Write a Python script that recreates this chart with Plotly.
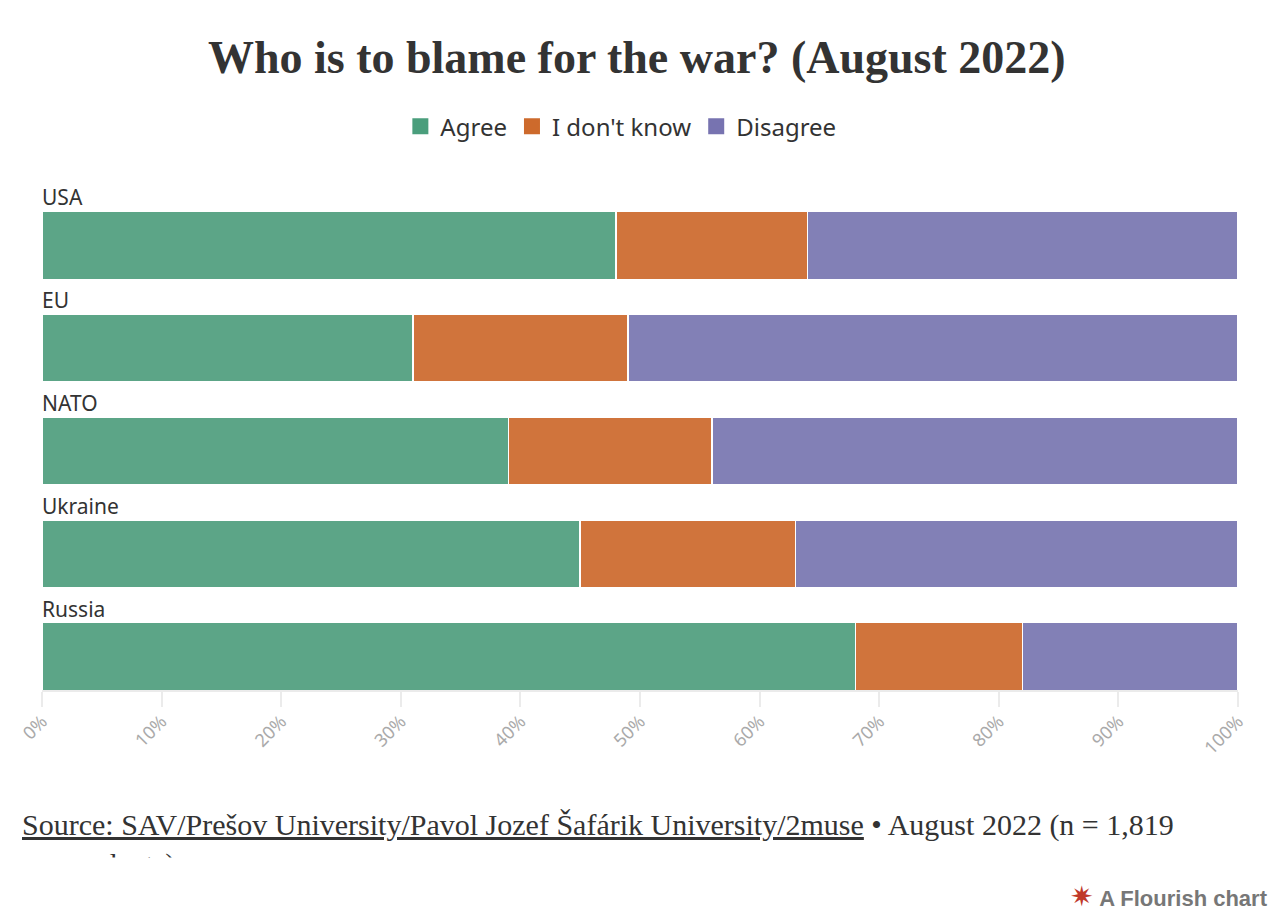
import plotly.graph_objects as go

# данные по странам/организациям (в процентах)
categories = ["USA", "EU", "NATO", "Ukraine", "Russia"]
agree = [48, 31, 39, 45, 68]
dont_know = [16, 18, 17, 18, 14]
disagree = [36, 51, 44, 37, 18]
tick_vals = [0, 10, 20, 30, 40, 50, 60, 70, 80, 90, 100]
tick_text = [f"{v}%" for v in tick_vals]

colors = {"Agree": "#5ca587", "I don't know": "#d0743c", "Disagree": "#8280b6"}
legend_colors = {"Agree": "#4a9e7c", "I don't know": "#cd6a2c", "Disagree": "#7773b0"}

fig = go.Figure()

for name, vals in [("Agree", agree), ("I don't know", dont_know), ("Disagree", disagree)]:
    fig.add_trace(go.Bar(
        y=categories, x=vals, name=name, orientation="h", showlegend=False,
        marker=dict(color=colors[name], line=dict(color="white", width=1.5)),
        width=0.66,
    ))
    # отдельный пустой след только для легенды (крупнее квадратик)
    fig.add_trace(go.Scatter(
        x=[None], y=[None], name=name, mode="markers",
        marker=dict(symbol="square", size=16, color=legend_colors[name]),
    ))

# подписи категорий над полосами
for c in categories:
    fig.add_annotation(x=0, y=c, xref="x", yref="y", text=c, showarrow=False,
                       xanchor="left", yanchor="bottom", yshift=32, xshift=-2,
                       font=dict(family="Noto Sans", size=21, color="#333333"))

# страница имеет отступ 8px, поэтому фигура чуть меньше окна
fig.update_layout(
    width=1278, height=906,
    barmode="stack",
    plot_bgcolor="white", paper_bgcolor="white",
    margin=dict(l=34, r=48, t=168, b=224, autoexpand=False),
    title=dict(text="<b>Who is to blame for the war? (August 2022)</b>",
               x=0.492, xanchor="center", y=0.946, yanchor="middle",
               font=dict(family="Liberation Serif", size=46, color="#333333")),
    legend=dict(orientation="h", x=0.484, xanchor="center", y=0.869, yref="container",
                yanchor="middle", font=dict(family="Noto Sans", size=24, color="#333333"),
                traceorder="normal", itemclick=False, itemwidth=30),
    showlegend=True,
)

fig.update_xaxes(range=[0, 100], tickvals=tick_vals, ticktext=tick_text, tickangle=-45,
                 automargin=False, ticklabelstandoff=-3,
                 showgrid=False, zeroline=False, showline=True, linecolor="#ebebeb",
                 linewidth=2, ticks="outside", ticklen=15, tickcolor="#ebebeb", tickwidth=2,
                 tickfont=dict(family="Noto Sans", size=18, color="#aaaaaa"))
fig.update_yaxes(categoryorder="array", categoryarray=categories, autorange=False,
                 automargin=False,
                 range=[4.325, -0.675], showticklabels=False, showgrid=False, zeroline=False)

# источник
fig.add_annotation(
    x=0, y=0, xref="paper", yref="paper", xanchor="left", yanchor="top",
    xshift=-22, yshift=-116, align="left", showarrow=False,
    text="<u>Source: SAV/Prešov University/Pavol Jozef Šafárik University/2muse</u> • August 2022 (n = 1,819<br>respondents)",
    font=dict(family="Liberation Serif", size=30, color="#333333"))
# обрезка второй строки как в оригинале
fig.add_annotation(
    x=0, y=0, xref="paper", yref="paper", xanchor="left", yanchor="top",
    xshift=-40, yshift=-167, showarrow=False, text=" ", bgcolor="white",
    width=500, height=40, font=dict(size=10))

fig.add_annotation(
    x=1, y=0, xref="paper", yref="paper", xanchor="right", yanchor="bottom",
    xshift=32, yshift=-224, showarrow=False,
    text="<span style='color:#c0392b;font-size:28px'>✷</span> <b>A Flourish chart</b>",
    font=dict(family="Liberation Sans", size=22, color="#777777"))

fig.write_html("out.html")
